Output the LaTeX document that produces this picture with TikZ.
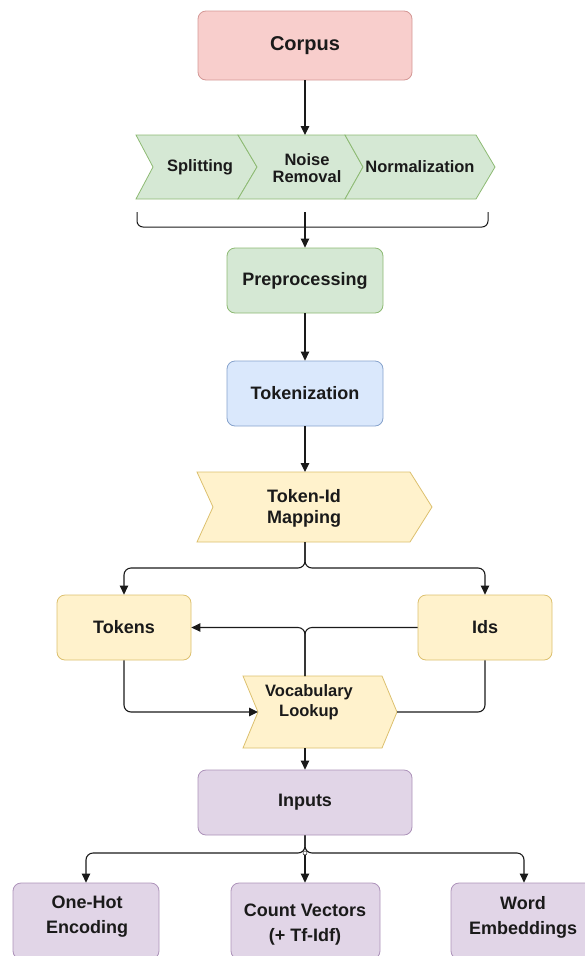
\documentclass[tikz,border=0pt]{standalone}
\usepackage{fontspec}
\setmainfont{Liberation Sans}
\usetikzlibrary{arrows.meta,calc}

\definecolor{pinkF}{HTML}{F8CECC}
\definecolor{pinkD}{HTML}{D49896}
\definecolor{greenF}{HTML}{D5E8D4}
\definecolor{greenD}{HTML}{8DBA73}
\definecolor{blueF}{HTML}{DAE8FC}
\definecolor{blueD}{HTML}{86A2CC}
\definecolor{yellowF}{HTML}{FFF2CC}
\definecolor{yellowD}{HTML}{DCC06E}
\definecolor{purpleF}{HTML}{E1D5E7}
\definecolor{purpleD}{HTML}{AC92B9}
\definecolor{ink}{HTML}{1A1A1A}

% step (chevron) outline drawn on the bounding node #2
\newcommand{\stepshape}[4]{%
  \draw[#1] (#2.north west) -- ([xshift=-#4]#2.north east) -- (#2.east)
    -- ([xshift=-#4]#2.south east) -- (#2.south west) -- ([xshift=#3]#2.west) -- cycle;}

\tikzset{
  box/.style={draw, rounded corners=8pt, line width=0.8pt, align=center,
    inner sep=0pt, font=\bfseries\fontsize{18}{22}\selectfont, text=ink},
  pinkbox/.style={box, fill=pinkF, draw=pinkD},
  greenbox/.style={box, fill=greenF, draw=greenD},
  bluebox/.style={box, fill=blueF, draw=blueD},
  yellowbox/.style={box, fill=yellowF, draw=yellowD},
  purplebox/.style={box, fill=purpleF, draw=purpleD},
  frame/.style={inner sep=0pt, outer sep=0pt},
  greenstep/.style={fill=greenF, draw=greenD, line width=0.8pt, line join=miter},
  yellowstep/.style={fill=yellowF, draw=yellowD, line width=0.8pt, line join=miter},
  label/.style={align=center, inner sep=0pt, text=ink, font=\bfseries\fontsize{16.5}{18.5}\selectfont},
  wire/.style={draw=ink, line width=1.1pt, rounded corners=7pt},
  conn/.style={wire, -{Triangle[length=9pt,width=8.5pt]}},
}

\begin{document}
\begin{tikzpicture}[x=1pt,y=-1pt]
\useasboundingbox (0,0) rectangle (585,956);
\clip (0,0) rectangle (585,956);

% top of the pipeline
\node[pinkbox, minimum width=214pt, minimum height=69pt,
      font=\bfseries\fontsize{20}{24}\selectfont] (corpus) at (305,45.5) {Corpus};

% preprocessing steps
\node[frame, minimum width=121pt, minimum height=64pt] (split) at (196.5,167) {};
\node[frame, minimum width=125pt, minimum height=64pt] (noise) at (300.5,167) {};
\node[frame, minimum width=150pt, minimum height=64pt] (norm) at (420,167) {};
\stepshape{greenstep}{split}{17pt}{19pt}
\stepshape{greenstep}{noise}{19pt}{18pt}
\stepshape{greenstep}{norm}{18pt}{19pt}
\node[label] (splitT) at (200,167) {Splitting};
\node[label, font=\bfseries\fontsize{16.5}{17.5}\selectfont] (noiseT) at (307,168) {Noise\\Removal};
\node[label] (normT) at (420,167) {Normalization};

% bracket gathering the steps
\coordinate (bl) at (137,212);
\coordinate (br) at (488,212);
\coordinate (bc) at (305,212);
\draw[wire, line width=1pt, rounded corners=6pt] (bl) -- (137,227) -- (488,227) -- (br);

\node[greenbox, minimum width=156pt, minimum height=65pt] (prep) at (305,280.5) {Preprocessing};
\node[bluebox, minimum width=156pt, minimum height=65pt] (tok) at (305,393.5) {Tokenization};

% token-id mapping step
\node[frame, minimum width=235pt, minimum height=70pt] (tim) at (314.5,507) {};
\stepshape{yellowstep}{tim}{16pt}{22pt}
\node[label, font=\bfseries\fontsize{18}{21}\selectfont] (timT) at (304,508) {Token-Id\\Mapping};

\node[yellowbox, minimum width=134pt, minimum height=65pt] (tokens) at (124,627.5) {Tokens};
\node[yellowbox, minimum width=134pt, minimum height=65pt] (ids) at (485,627.5) {Ids};

% vocabulary lookup step
\node[frame, minimum width=154pt, minimum height=72pt] (vocab) at (320,712) {};
\stepshape{yellowstep}{vocab}{15pt}{15pt}
\node[label, font=\bfseries\fontsize{16.5}{20}\selectfont] (vocabT) at (309,702) {Vocabulary\\Lookup};

\node[purplebox, minimum width=214pt, minimum height=65pt] (inputs) at (305,802.5) {Inputs};

% representations
\node[purplebox, minimum width=146pt, minimum height=76pt] (onehot) at (86,921) {};
\node[purplebox, minimum width=149pt, minimum height=76pt] (count) at (305.5,921) {};
\node[purplebox, minimum width=146pt, minimum height=76pt] (word) at (524,921) {};
\node[label, font=\bfseries\fontsize{18}{25}\selectfont] (onehotT) at (87,917) {One-Hot\\Encoding};
\node[label, font=\bfseries\fontsize{18}{25}\selectfont] (countT) at (305,925) {Count Vectors\\(+ Tf-Idf)};
\node[label, font=\bfseries\fontsize{18}{25}\selectfont] (wordT) at (523,917) {Word\\Embeddings};

% junction points
\coordinate (tsplit) at (305,568);
\coordinate (j) at (305,627.5);
\coordinate (vtop) at (305,676);
\coordinate (vin) at (258,712);
\coordinate (vbot) at (305,748);
\coordinate (isplit) at (305,853);

% connectors
\draw[conn] (corpus.south) -- (corpus.south |- noise.north);
\draw[conn] (bc) -- (prep.north);
\draw[conn] (prep) -- (tok);
\draw[conn] (tok.south) -- (tok.south |- tim.north);
\draw[conn] (tok.south |- tim.south) -- (tsplit) -| (tokens.north);
\draw[conn] (tok.south |- tim.south) -- (tsplit) -| (ids.north);
\draw[conn] (vtop) -- (j) -- (tokens.east);
\draw[wire] (ids.west) -- (j) -- (vtop);
\draw[conn] (tokens.south) |- (vin);
\draw[wire] (ids.south) |- (vocab.east);
\draw[conn] (vbot) -- (inputs.north);
\draw[conn] (inputs.south) -- (isplit) -| (onehot.north);
\draw[conn] (inputs.south) -- (isplit) -| (word.north);
\draw[conn] (isplit) -- (isplit |- count.north);
\node[circle, draw=ink, fill=white, line width=0.5pt, inner sep=0pt,
      minimum size=4pt] (jdot) at (isplit) {};
\end{tikzpicture}
\end{document}
